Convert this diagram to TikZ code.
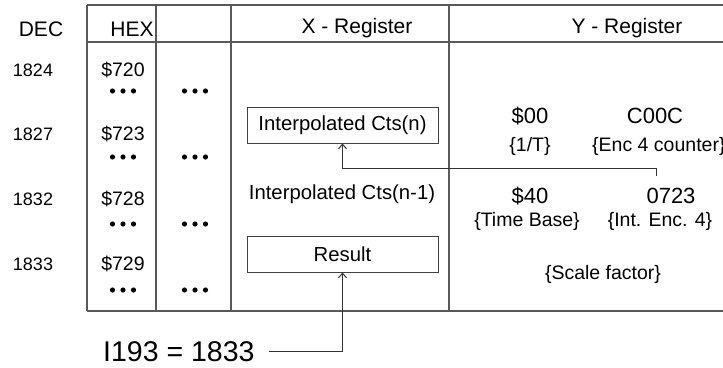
\documentclass[tikz,border=0pt]{standalone}
\usepackage{fontspec}
\setmainfont{Liberation Sans}
\usetikzlibrary{arrows.meta}
\definecolor{linegray}{gray}{0.35}
\begin{document}
\begin{tikzpicture}[x=1pt,y=-1pt,
  tline/.style={draw=linegray,line width=1.4pt},
  txt/.style={inner sep=0pt,anchor=base},
  hdr/.style={txt,font=\fontsize{21}{24}\selectfont},
  dec/.style={txt,font=\fontsize{18}{21}\selectfont},
  hexv/.style={txt,font=\fontsize{19.5}{22}\selectfont},
  body/.style={txt,font=\fontsize{20.3}{23}\selectfont},
  yval/.style={txt,font=\fontsize{22}{25}\selectfont},
  brace/.style={txt,font=\fontsize{19.5}{22}\selectfont},
  regbox/.style={draw=black!75,line width=1pt,minimum width=191pt,minimum height=36pt,inner sep=0pt,font=\fontsize{20.3}{23}\selectfont},
  arr/.style={draw=black!80,line width=1pt,-{Straight Barb[length=4.5pt,width=8pt,line width=1pt]}},
  dot/.style={fill=black}
]
\useasboundingbox (0,0) rectangle (723,367);
% table lines
\draw[tline] (87,5) -- (723,5);
\draw[tline] (87,42) -- (723,42);
\draw[tline] (87,311) -- (723,311);
\foreach \x in {87,156,231,449} \draw[tline] (\x,5) -- (\x,311);
% headers
\node[hdr] (hdec) at (41,36) {DEC};
\node[hdr] (hhex) at (132,36) {HEX};
\node[hdr] (hx) at (357,33) {X - Register};
\node[hdr] (hy) at (627,33) {Y - Register};
% dec / hex values
\node[dec] (d1) at (33,76) {1824};
\node[dec] (d2) at (33,140) {1827};
\node[dec] (d3) at (33,205) {1832};
\node[dec] (d4) at (33,270) {1833};
\node[hexv] (h1) at (123,76) {\$720};
\node[hexv] (h2) at (123,140) {\$723};
\node[hexv] (h3) at (123,205) {\$728};
\node[hexv] (h4) at (123,270) {\$729};
% dots
\foreach \y in {91,157,224,290}
  \foreach \cx in {123,195}
    \foreach \dx in {-10.5,0,10.5}
      \fill[dot] (\cx+\dx,\y) circle (2.6pt);
% X register
\node[regbox] (icn) at (342.5,125) {Interpolated Cts(n)};
\node[body] (icn1) at (342,199) {Interpolated Cts(n-1)};
\node[regbox] (res) at (342.5,254) {Result};
% Y register
\node[yval] (y00) at (530,123) {\$00};
\node[yval] (yc00c) at (655,123) {C00C};
\node[brace] (b1t) at (530,151) {\{1/T\}};
\node[brace,anchor=base west] (benc) at (592,151) {\{Enc 4 counter\}};
\node[yval] (y40) at (530,203) {\$40};
\node[yval] (y0723) at (671,203) {0723};
\node[brace] (btb) at (527,226) {\{Time Base\}};
\node[brace] (bie) at (660,226) {\{Int. Enc. 4\}};
\node[brace] (bsf) at (603,279) {\{Scale factor\}};
% bottom label
\node[txt,anchor=base west,font=\fontsize{28.5}{32}\selectfont] (i193) at (103,361) {I193 = 1833};
% connectors
\coordinate (s1) at (656,176);
\coordinate (k1) at (656,168);
\draw[arr] (s1) -- (k1) -| (icn.south);
\draw[arr,shorten <=14pt] (i193.east) -| (res.south);
\end{tikzpicture}
\end{document}
